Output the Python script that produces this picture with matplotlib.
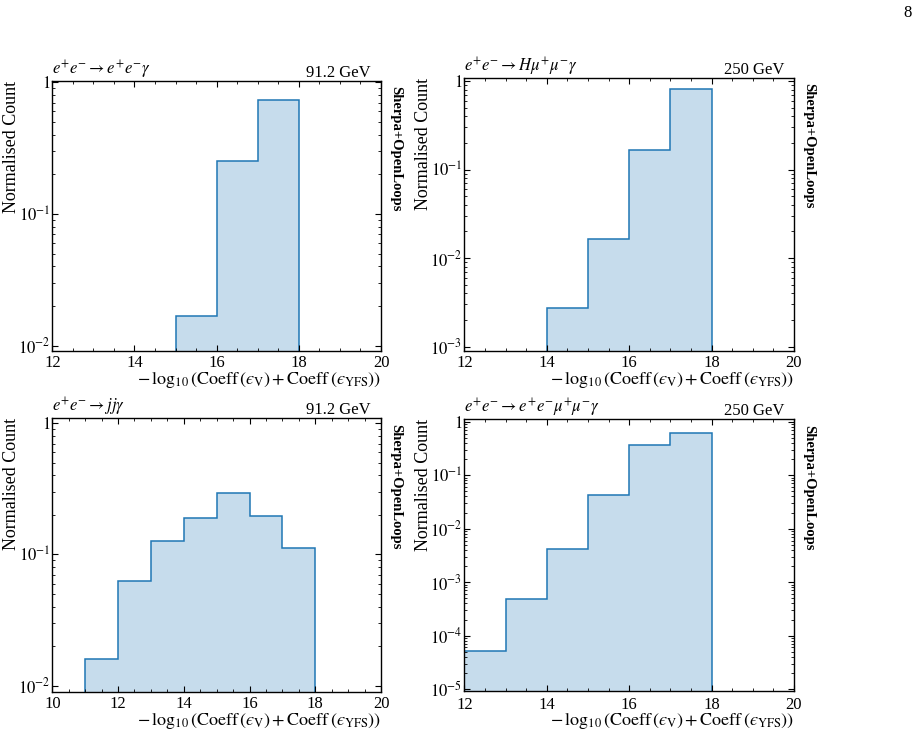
import numpy as np
import matplotlib
matplotlib.use("Agg")
import matplotlib.pyplot as plt
from matplotlib.ticker import LogLocator, MultipleLocator, NullFormatter

plt.rcParams['font.family'] = ['Liberation Serif', 'DejaVu Serif']
plt.rcParams['mathtext.fontset'] = 'stix'

# ---- data ----
procs = [r'$e^{+}e^{-}\to e^{+}e^{-}\gamma$',
         r'$e^{+}e^{-}\to H\mu^{+}\mu^{-}\gamma$',
         r'$e^{+}e^{-}\to jj\gamma$',
         r'$e^{+}e^{-}\to e^{+}e^{-}\mu^{+}\mu^{-}\gamma$']
energies = ['91.2 GeV', '250 GeV', '91.2 GeV', '250 GeV']

edges_ee = [15, 16, 17, 18]
vals_ee = [0.0169, 0.252, 0.738]

edges_hmm = [14, 15, 16, 17, 18]
vals_hmm = [0.00275, 0.0166, 0.166, 0.817]

edges_jj = [11, 12, 13, 14, 15, 16, 17, 18]
vals_jj = [0.0159, 0.063, 0.127, 0.191, 0.293, 0.198, 0.111]

edges_eemm = [12, 13, 14, 15, 16, 17, 18]
vals_eemm = [5.2e-5, 4.77e-4, 0.00416, 0.0426, 0.36, 0.61]

xlims = [(12, 20), (12, 20), (10, 20), (12, 20)]
ylims = [(0.0091, 1.02), (0.000895, 1.09), (0.0089, 1.09), (9.2e-6, 1.11)]

xlabel = (r'$-\,\log_{10}\left(\mathrm{Coeff}\,\left(' + '\u03f5'
          + r'_{\mathrm{V}}\right)+\mathrm{Coeff}\,\left(' + '\u03f5'
          + r'_{\mathrm{YFS}}\right)\right)$')

fig = plt.figure(figsize=(9.22, 7.30), dpi=100)
W, H = 922, 730
boxes = [(52.3, 381, 81, 351), (464.3, 794, 77.7, 351),
         (52.3, 381, 418.3, 692.3), (464.3, 794, 419.3, 691)]

datasets = [(edges_ee, vals_ee), (edges_hmm, vals_hmm),
            (edges_jj, vals_jj), (edges_eemm, vals_eemm)]

line_col = '#1f77b4'
face_col = (31/255, 119/255, 180/255, 0.25)

for i, (l, r, t, b) in enumerate(boxes):
    ax = fig.add_axes([l / W, 1 - b / H, (r - l) / W, (b - t) / H])
    wpx = r - l
    e, v = datasets[i]
    ax.stairs(v, e, baseline=1e-12, fill=True, facecolor=face_col, edgecolor='none')
    ax.stairs(v, e, baseline=1e-12, fill=False, color=line_col, lw=1.1)
    ax.set_yscale('log')
    ax.set_xlim(*xlims[i])
    ax.set_ylim(*ylims[i])
    ax.xaxis.set_major_locator(MultipleLocator(2))
    ax.xaxis.set_minor_locator(MultipleLocator(0.5))
    ax.yaxis.set_minor_locator(LogLocator(base=10, subs=np.arange(2, 10), numticks=20))
    ax.yaxis.set_minor_formatter(NullFormatter())
    lo, hi = ylims[i]
    exps = range(int(np.ceil(np.log10(lo))), int(np.floor(np.log10(hi))) + 1)
    ticks = [10.0 ** ex for ex in exps]
    labs = [r'$1$' if ex == 0 else r'$10^{%d}$' % ex for ex in exps]
    ax.set_yticks(ticks)
    ax.set_yticklabels(labs)
    ax.tick_params(which='both', direction='in', top=True, right=True, labelsize=12)
    ax.tick_params(axis='y', which='both', pad=1.5)
    ax.tick_params(axis='x', which='both', pad=4 if i == 3 else 3)
    ax.tick_params(which='major', length=4, width=0.8)
    ax.tick_params(which='minor', length=2, width=0.6)
    for sp in ax.spines.values():
        sp.set_linewidth(1.0)
    ax.set_ylabel('Normalised Count', fontsize=13, loc='top')
    ax.yaxis.set_label_coords(-32.0 / wpx, 1.0)
    ax.set_xlabel(xlabel, fontsize=13, loc='right', labelpad=-1)
    ax.set_title(procs[i], loc='left', fontsize=12, pad=2)
    ax.text(1 - 10.0 / wpx, 1.0, energies[i], transform=ax.transAxes,
            ha='right', va='bottom', fontsize=12)
    ax.text(1.025, 0.98, 'Sherpa+OpenLoops', transform=ax.transAxes, rotation=270,
            ha='left', va='top', fontsize=10.5, fontweight='bold')

fig.text(908 / W, 1 - 13 / H, '8', fontsize=12, ha='center', va='center')

fig.savefig('out.png', dpi=100)
